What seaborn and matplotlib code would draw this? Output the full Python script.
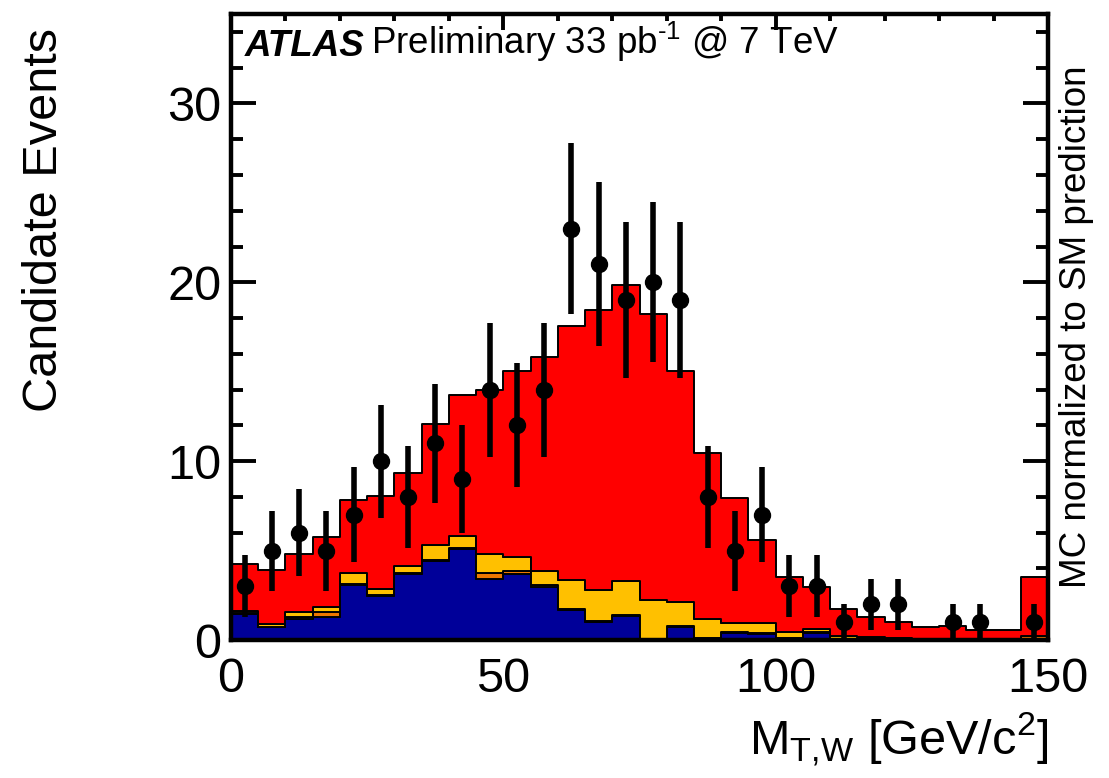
import numpy as np
import pandas as pd
import matplotlib
matplotlib.use("Agg")
import matplotlib.pyplot as plt
import seaborn as sns

# 5 GeV bins from 0 to 150
bin_edges = np.arange(0, 155, 5)
bin_centers = bin_edges[:-1] + 2.5

# Observed candidate events per bin
data_counts = [3, 5, 6, 5, 7, 10, 8, 11, 9, 14, 12, 14, 23, 21, 19,
               20, 19, 8, 5, 7, 3, 3, 1, 2, 2, 0, 1, 1, 0, 1]

# Stacked MC components (events per bin), listed bottom to top
mc_blue = [1.45, 0.70, 1.20, 1.30, 3.10, 2.45, 3.70, 4.40, 5.10, 3.40,
           3.70, 2.95, 1.70, 1.00, 1.35, 0.05, 0.75, 0.10, 0.40, 0.35,
           0.10, 0.40, 0.05, 0.05, 0.03, 0.02, 0.02, 0.01, 0.01, 0.00]
mc_orange = [0.05, 0.05, 0.10, 0.25, 0.05, 0.05, 0.05, 0.05, 0.05, 0.35,
             0.15, 0.10, 0.05, 0.05, 0.05, 0.02, 0.02, 0.02, 0.02, 0.02,
             0.02, 0.02, 0.01, 0.01, 0.01, 0.01, 0.01, 0.01, 0.01, 0.20]
mc_gold = [0.13, 0.14, 0.28, 0.31, 0.57, 0.37, 0.40, 0.88, 0.68, 1.04,
           0.81, 0.82, 1.60, 1.74, 1.91, 2.16, 1.37, 1.07, 0.55, 0.56,
           0.31, 0.19, 0.15, 0.10, 0.05, 0.05, 0.05, 0.03, 0.03, 0.05]
mc_red = [2.62, 3.01, 3.22, 3.89, 4.08, 5.18, 5.20, 6.77, 7.87, 9.21,
          10.39, 11.93, 14.20, 15.66, 16.54, 15.97, 12.91, 9.26, 6.98, 4.67,
          3.07, 2.34, 1.54, 1.14, 0.91, 0.67, 0.68, 0.51, 0.51, 3.30]

components = {"blue": mc_blue, "orange": mc_orange, "gold": mc_gold, "red": mc_red}
palette = {"blue": "#000099", "orange": "#EE7700", "gold": "#FFC000", "red": "#FF0000"}

frames = [pd.DataFrame({"mt": bin_centers, "events": vals, "component": name})
          for name, vals in components.items()]
mc = pd.concat(frames, ignore_index=True)

sns.set_theme(style="ticks")
plt.rcParams["font.family"] = ["Liberation Sans", "DejaVu Sans"]
plt.rcParams["mathtext.fontset"] = "custom"
plt.rcParams["mathtext.rm"] = "Liberation Sans"
plt.rcParams["mathtext.it"] = "Liberation Sans:italic"
plt.rcParams["mathtext.bf"] = "Liberation Sans:bold"
plt.rcParams["text.color"] = "black"
plt.rcParams["axes.labelcolor"] = "black"
plt.rcParams["xtick.color"] = "black"
plt.rcParams["ytick.color"] = "black"

fig = plt.figure(figsize=(11.09, 7.78), dpi=100)
ax = fig.add_axes([231 / 1109, 1 - 640 / 778, (1048 - 231) / 1109, (640 - 14) / 778])

# seaborn stacks the last hue level at the bottom
sns.histplot(data=mc, x="mt", weights="events", hue="component",
             hue_order=["red", "gold", "orange", "blue"], palette=palette,
             bins=[float(b) for b in bin_edges], multiple="stack",
             element="step", fill=True, alpha=1.0, edgecolor="black",
             linewidth=1.4, legend=False, ax=ax)

# Data points with Poisson errors (empty bins not drawn)
counts = np.array(data_counts, dtype=float)
shown = counts > 0
ax.errorbar(bin_centers[shown], counts[shown], yerr=np.sqrt(counts[shown]),
            fmt="o", color="black", markersize=11.5, elinewidth=4,
            capsize=0, zorder=10)

ax.set_xlim(0, 150)
ax.set_ylim(0, 35)
ax.set_xticks([0, 50, 100, 150])
ax.set_xticks(np.arange(0, 151, 10), minor=True)
ax.set_yticks([0, 10, 20, 30])
ax.set_yticks(np.arange(0, 35, 2), minor=True)

ax.tick_params(axis="both", which="both", direction="in", top=True, right=True,
               width=2.8, colors="black", labelsize=35, labelcolor="black")
ax.tick_params(axis="x", which="major", length=11.5, pad=12)
ax.tick_params(axis="x", which="minor", length=5)
ax.tick_params(axis="y", which="major", length=18, pad=7)
ax.tick_params(axis="y", which="minor", length=8.6)
for sp in ax.spines.values():
    sp.set_linewidth(3.2)
    sp.set_color("black")
    sp.set_zorder(20)

ax.set_xlabel(r"M$_{\mathrm{T{,}W}}$ [GeV/c$^{2}$]", fontsize=35, loc="right",
              labelpad=6, color="black")
ax.set_ylabel("")
fig.text(45 / 1109, 1 - 220 / 778, "Candidate Events", rotation=90,
         fontsize=35, ha="center", va="center", color="black")
fig.text(1076 / 1109, 1 - 327 / 778, "MC normalized to SM prediction", rotation=90,
         fontsize=26.5, ha="center", va="center", color="black")

t = fig.text(245 / 1109, 1 - 56 / 778, "ATLAS", fontsize=26.5, fontweight="bold",
             fontstyle="italic", va="baseline", ha="left", color="black")
ax.annotate(r"Preliminary 33 pb$^{\text{-}1}$ @ 7 TeV", xy=(1, 0), xycoords=t,
            xytext=(6, 0), textcoords="offset pixels", fontsize=26.5,
            va="bottom", ha="left", color="black")

fig.savefig("out.png", dpi=100)
